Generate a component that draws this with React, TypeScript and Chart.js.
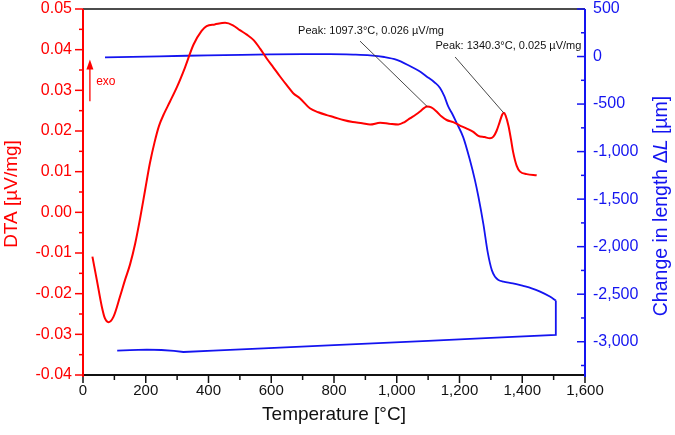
import React, { useEffect, useRef } from "react";
import { Chart, registerables } from "chart.js";
Chart.register(...registerables);

const FONT = "'Liberation Sans', Arial, Helvetica, sans-serif";
const RED = "#ff0000";
const BLUE = "#1414f0";
const INK = "#111111";

// DTA (left axis) — temperature [°C] and signal [µV/mg]
const dtaTemp = [
  30, 44, 60, 70, 81, 97, 118, 134, 150, 166, 182, 198, 213, 228, 242, 258, 277, 300, 325, 352, 378,
  394, 420, 453, 478, 500, 522, 543, 565, 585, 607, 628, 650, 670, 692, 723, 750, 777, 800, 830, 860,
  890, 915, 947, 975, 1005, 1025, 1042, 1060, 1074, 1088, 1097, 1110, 1127, 1142, 1159, 1180, 1200, 1220, 1244, 1260,
  1280, 1297, 1308, 1318, 1328, 1336, 1341, 1347, 1356, 1364, 1371, 1382, 1393, 1414, 1446,
];
const dtaValue = [
  -0.0109, -0.0166, -0.0232, -0.0261, -0.027, -0.0257, -0.0207, -0.0166, -0.0128, -0.0078, -0.0015, 0.0055, 0.012, 0.0172, 0.0212, 0.0242, 0.0272, 0.0309, 0.0356, 0.0412, 0.0446,
  0.0458, 0.0462, 0.0466, 0.046, 0.0448, 0.0437, 0.0424, 0.0402, 0.0379, 0.0356, 0.0334, 0.0312, 0.0293, 0.028, 0.0256, 0.0246, 0.0239, 0.0234, 0.0227, 0.0222,
  0.0219, 0.0216, 0.022, 0.0218, 0.0216, 0.0222, 0.0231, 0.024, 0.0248, 0.0257, 0.026, 0.0258, 0.0248, 0.0236, 0.0227, 0.0222, 0.0214, 0.0207, 0.0198, 0.0188,
  0.0185, 0.0182, 0.0186, 0.02, 0.0222, 0.024, 0.0245, 0.0238, 0.0213, 0.018, 0.0148, 0.0115, 0.01, 0.0094, 0.0091,
];

// Dilatometer (right axis) — heating branch
const heatTemp = [
  70, 200, 330, 450, 596, 700, 787, 861, 915, 960, 1000, 1042, 1070, 1095, 1120, 1138, 1152, 1164, 1178, 1191,
  1212, 1233, 1249, 1260, 1276, 1290, 1303, 1314, 1324, 1340, 1370, 1403, 1430, 1457, 1488, 1507,
];
const heatLength = [
  -8, 0, 8, 14, 22, 25, 25, 20, 12, -5, -35, -100, -150, -209, -270, -330, -420, -525, -610, -700,
  -850, -1086, -1297, -1470, -1760, -2060, -2247, -2320, -2350, -2367, -2385, -2413, -2438, -2473, -2525, -2567,
];
// cooling branch (after the hold at maximum temperature)
const coolTemp = [1507, 1507, 1300, 1100, 800, 575, 415, 320, 290, 250, 203, 150, 109];
const coolLength = [-2567, -2928, -2960, -2990, -3036, -3070, -3093, -3108, -3096, -3087, -3083, -3088, -3094];

const xTicks = [0, 200, 400, 600, 800, 1000, 1200, 1400, 1600];
const dtaTicks = [-0.04, -0.03, -0.02, -0.01, 0, 0.01, 0.02, 0.03, 0.04, 0.05];
const lengthTicks = [-3000, -2500, -2000, -1500, -1000, -500, 0, 500];

const peakTemps = [1097.3, 1340.3];
const peakDTA = [0.026, 0.0245];
const peakLabels = ["Peak: 1097.3°C, 0.026 µV/mg", "Peak: 1340.3°C, 0.025 µV/mg"];
// label anchors / leader-line starts in data coordinates
const labelAnchorTemp = [918, 1356];
const labelAnchorDTA = [0.0446, 0.0409];
const leaderStartTemp = [883, 1186];
const leaderStartDTA = [0.0421, 0.0382];

const xTitle = "Temperature [°C]";
const yTitle = "DTA [µV/mg]";
const y1TitleParts = ["Change in length Δ", "L", " [µm]"];

export default function App() {
  const ref = useRef<HTMLCanvasElement>(null);
  useEffect(() => {
    const canvas = ref.current!;
    const decor = {
      id: "decor",
      afterDraw(chart: any) {
        const ctx: CanvasRenderingContext2D = chart.ctx;
        const { left, right, top, bottom } = chart.chartArea;
        const xs = chart.scales.x;
        const yl = chart.scales.y;
        const yr = chart.scales.y1;
        const line = (a: number, b: number, c: number, d: number) => {
          ctx.beginPath();
          ctx.moveTo(a, b);
          ctx.lineTo(c, d);
          ctx.stroke();
        };
        ctx.save();
        // top frame
        ctx.strokeStyle = INK;
        ctx.lineWidth = 1.5;
        line(left, top, right, top);
        // bottom axis
        ctx.lineWidth = 2;
        line(left, bottom, right, bottom);
        for (let v = 0; v <= 1600; v += 100) {
          const px = xs.getPixelForValue(v);
          const major = v % 200 === 0;
          ctx.lineWidth = 1.5;
          line(px, bottom, px, bottom + (major ? 8 : 5));
        }
        // left axis
        ctx.strokeStyle = RED;
        ctx.lineWidth = 2;
        line(left, top, left, bottom + 2);
        for (let i = 0; i <= 18; i++) {
          const v = -0.04 + i * 0.005;
          const py = yl.getPixelForValue(v);
          ctx.lineWidth = 1.5;
          line(left - (i % 2 === 0 ? 8 : 4), py, left, py);
        }
        // right axis
        ctx.strokeStyle = BLUE;
        ctx.lineWidth = 2;
        line(right, top, right, bottom + 2);
        for (let v = -3250; v <= 500; v += 250) {
          const py = yr.getPixelForValue(v);
          ctx.lineWidth = 1.5;
          line(right - (v % 500 === 0 ? 8 : 4), py, right, py);
        }
        // exo arrow
        const ax = xs.getPixelForValue(22);
        const ay0 = yl.getPixelForValue(0.0273);
        const ay1 = yl.getPixelForValue(0.0376);
        ctx.strokeStyle = RED;
        ctx.fillStyle = RED;
        ctx.lineWidth = 1.3;
        line(ax, ay0, ax, ay1 + 8);
        ctx.beginPath();
        ctx.moveTo(ax, ay1);
        ctx.lineTo(ax - 3.5, ay1 + 10);
        ctx.lineTo(ax + 3.5, ay1 + 10);
        ctx.closePath();
        ctx.fill();
        ctx.font = `12px ${FONT}`;
        ctx.textAlign = "left";
        ctx.textBaseline = "middle";
        ctx.fillText("exo", xs.getPixelForValue(42), yl.getPixelForValue(0.0321));
        // peak annotations
        for (let i = 0; i < peakTemps.length; i++) {
          ctx.strokeStyle = "#333333";
          ctx.lineWidth = 0.9;
          line(
            xs.getPixelForValue(leaderStartTemp[i]),
            yl.getPixelForValue(leaderStartDTA[i]),
            xs.getPixelForValue(peakTemps[i]),
            yl.getPixelForValue(peakDTA[i])
          );
          ctx.fillStyle = INK;
          ctx.font = `11px ${FONT}`;
          ctx.textAlign = "center";
          ctx.textBaseline = "middle";
          ctx.fillText(peakLabels[i], xs.getPixelForValue(labelAnchorTemp[i]), yl.getPixelForValue(labelAnchorDTA[i]));
        }
        // axis titles
        ctx.fillStyle = INK;
        ctx.font = `19px ${FONT}`;
        ctx.textAlign = "center";
        ctx.textBaseline = "middle";
        ctx.fillText(xTitle, (left + right) / 2, 415);
        ctx.save();
        ctx.translate(12, 194);
        ctx.rotate(-Math.PI / 2);
        ctx.fillStyle = RED;
        ctx.fillText(yTitle, 0, 0);
        ctx.restore();
        ctx.save();
        ctx.translate(662, 206);
        ctx.rotate(-Math.PI / 2);
        ctx.fillStyle = BLUE;
        ctx.textAlign = "left";
        const fonts = [`19.5px ${FONT}`, `italic 19.5px ${FONT}`, `19.5px ${FONT}`];
        let total = 0;
        y1TitleParts.forEach((t, k) => {
          ctx.font = fonts[k];
          total += ctx.measureText(t).width;
        });
        let xx = -total / 2;
        y1TitleParts.forEach((t, k) => {
          ctx.font = fonts[k];
          ctx.fillText(t, xx, 0);
          xx += ctx.measureText(t).width;
        });
        ctx.restore();
        ctx.restore();
      },
    };

    const zeroPad = (s: any) => {
      s.paddingTop = 0;
      s.paddingBottom = 0;
    };

    const chart = new Chart(canvas, {
      type: "line",
      data: {
        datasets: [
          {
            label: "DTA",
            data: dtaTemp.map((t, i) => ({ x: t, y: dtaValue[i] })),
            yAxisID: "y",
            borderColor: RED,
            borderWidth: 2,
            pointRadius: 0,
            cubicInterpolationMode: "monotone",
            fill: false,
          },
          {
            label: "heating",
            data: heatTemp.map((t, i) => ({ x: t, y: heatLength[i] })),
            yAxisID: "y1",
            borderColor: BLUE,
            borderWidth: 1.8,
            pointRadius: 0,
            cubicInterpolationMode: "monotone",
            fill: false,
          },
          {
            label: "cooling",
            data: coolTemp.map((t, i) => ({ x: t, y: coolLength[i] })),
            yAxisID: "y1",
            borderColor: BLUE,
            borderWidth: 1.8,
            pointRadius: 0,
            tension: 0,
            fill: false,
          },
        ],
      } as any,
      options: {
        animation: false,
        responsive: false,
        maintainAspectRatio: false,
        layout: { padding: { top: 9, left: 0, right: 0, bottom: 0 } },
        plugins: { legend: { display: false }, tooltip: { enabled: false } },
        scales: {
          x: {
            type: "linear",
            position: "bottom",
            min: 0,
            max: 1600,
            grid: { display: false, drawTicks: false },
            border: { display: false },
            ticks: {
              color: INK,
              font: { family: FONT, size: 15, lineHeight: 1 },
              padding: 8,
              maxRotation: 0,
              autoSkip: false,
              callback: (v: any) => Number(v).toLocaleString("en-US"),
            },
            afterBuildTicks: (s: any) => {
              s.ticks = xTicks.map((v) => ({ value: v }));
            },
            afterFit: (s: any) => {
              s.height = 60;
              s.paddingLeft = 0;
              s.paddingRight = 0;
            },
          },
          y: {
            type: "linear",
            position: "left",
            min: -0.04,
            max: 0.05,
            grid: { display: false, drawTicks: false },
            border: { display: false },
            ticks: {
              color: RED,
              font: { family: FONT, size: 16, lineHeight: 1 },
              padding: 11,
              callback: (v: any) => Number(v).toFixed(2),
            },
            afterBuildTicks: (s: any) => {
              s.ticks = dtaTicks.map((v) => ({ value: v }));
            },
            afterFit: (s: any) => {
              s.width = 83;
              zeroPad(s);
            },
          },
          y1: {
            type: "linear",
            position: "right",
            min: -3350,
            max: 500,
            grid: { display: false, drawTicks: false },
            border: { display: false },
            ticks: {
              color: BLUE,
              font: { family: FONT, size: 16, lineHeight: 1 },
              padding: 8,
              callback: (v: any) => Number(v).toLocaleString("en-US"),
            },
            afterBuildTicks: (s: any) => {
              s.ticks = lengthTicks.map((v) => ({ value: v }));
            },
            afterFit: (s: any) => {
              s.width = 90;
              zeroPad(s);
            },
          },
        },
      } as any,
      plugins: [decor],
    });
    return () => chart.destroy();
  }, []);

  return (
    <div style={{ position: "fixed", left: 0, top: 0, width: 675, height: 435, background: "#ffffff" }}>
      <canvas ref={ref} width={675} height={435} style={{ display: "block" }} />
    </div>
  );
}
